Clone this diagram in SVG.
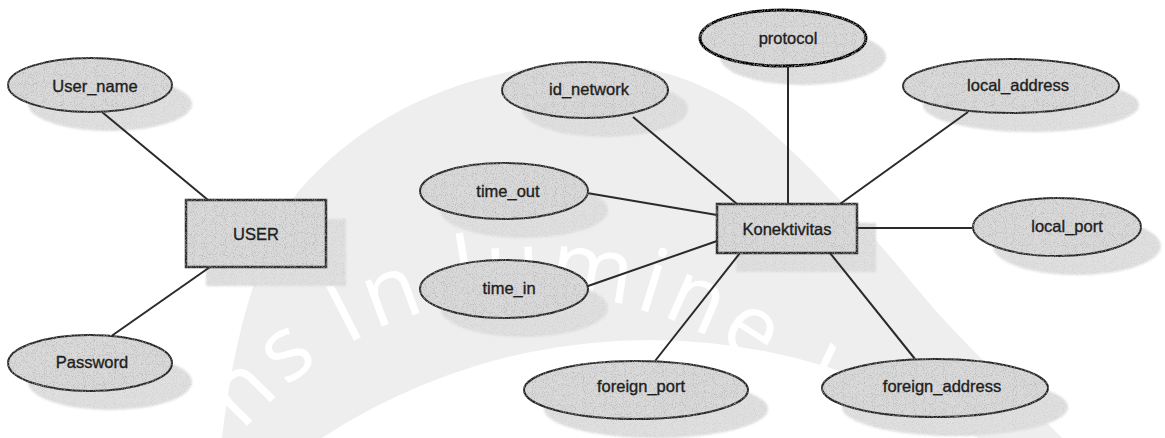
<svg xmlns="http://www.w3.org/2000/svg" xmlns:xlink="http://www.w3.org/1999/xlink" width="1165" height="438" viewBox="0 0 1165 438">
  <style>
    .wm-body { fill: #eeeeee; }
    .wm-hole { fill: #ffffff; }
    .wm-text { font-family: "Open Sans", "DejaVu Sans", sans-serif; font-size: 90px; font-weight: 400; fill: #ffffff; letter-spacing: 7px; }
    .shadow { fill: #e0e0e0; filter: url(#grainSoft); }
    .attr { fill: #dadada; stroke: #262626; stroke-width: 2; filter: url(#grain); }
    .attr.key { stroke: #000000; stroke-width: 3; }
    .entity { fill: #dadada; stroke: #2e2e2e; stroke-width: 2.5; filter: url(#grain); }
    .lbl { font-family: "Liberation Sans", Arial, sans-serif; font-size: 16.5px; fill: #1e1e1e; stroke: #1e1e1e; stroke-width: 0.35; text-anchor: middle; dominant-baseline: central; }
    #connectors line { stroke: #2a2a2a; stroke-width: 2; }
  </style>
  <defs>
    <!-- fine stipple over a flat fill -->
    <filter id="grain" x="-5%" y="-5%" width="110%" height="110%">
      <feTurbulence type="fractalNoise" baseFrequency="1.1" numOctaves="1" seed="4" result="noise"/>
      <feColorMatrix in="noise" type="matrix" values="0 0 0 0 0.35  0 0 0 0 0.35  0 0 0 0 0.35  2.2 0 0 0 -1.05" result="specks"/>
      <feComposite in="specks" in2="SourceGraphic" operator="in" result="clipped"/>
      <feMerge><feMergeNode in="SourceGraphic"/><feMergeNode in="clipped"/></feMerge>
    </filter>
    <filter id="grainSoft" x="-10%" y="-10%" width="120%" height="120%">
      <feGaussianBlur in="SourceGraphic" stdDeviation="1" result="base"/>
      <feTurbulence type="fractalNoise" baseFrequency="1.1" numOctaves="1" seed="9" result="noise"/>
      <feColorMatrix in="noise" type="matrix" values="0 0 0 0 0.55  0 0 0 0 0.55  0 0 0 0 0.55  2.0 0 0 0 -0.95" result="specks"/>
      <feComposite in="specks" in2="base" operator="in" result="clipped"/>
      <feMerge><feMergeNode in="base"/><feMergeNode in="clipped"/></feMerge>
    </filter>
    <!-- circular baseline for the motto, clockwise from the bottom -->
    <path id="mottoArc" d="M 535,1055 A 380,380 0 0 1 535,295 A 380,380 0 0 1 535,1055"/>
  </defs>

  <rect width="1165" height="438" fill="#ffffff"/>

  <!-- background emblem -->
  <g id="watermark">
    <path class="wm-body" d="M 222,438 C 235,330 258,252 298,192 C 360,120 450,75 560,64 C 640,57 700,80 745,110 C 820,170 880,245 935,310 C 985,365 1030,405 1062,438 Z"/>
    <circle class="wm-hole" cx="650" cy="938" r="598"/>
    <text class="wm-text"><textPath xlink:href="#mottoArc" href="#mottoArc" startOffset="563">Serviens</textPath></text>
    <text class="wm-text"><textPath xlink:href="#mottoArc" href="#mottoArc" startOffset="996">In</textPath></text>
    <text class="wm-text" style="letter-spacing:5px"><textPath xlink:href="#mottoArc" href="#mottoArc" startOffset="1117">lumine</textPath></text>
    <text class="wm-text"><textPath xlink:href="#mottoArc" href="#mottoArc" startOffset="1465">Veritatis</textPath></text>
  </g>

  <!-- drop shadows, offset (20,19) -->
  <g id="shadows">
    <ellipse class="shadow" cx="110" cy="104" rx="82" ry="27"/>
    <ellipse class="shadow" cx="110" cy="382" rx="82" ry="28"/>
    <rect class="shadow" x="206" y="219" width="140" height="67"/>
    <ellipse class="shadow" cx="605" cy="109" rx="83" ry="28"/>
    <ellipse class="shadow" cx="803" cy="57" rx="83" ry="28"/>
    <ellipse class="shadow" cx="1031" cy="105" rx="108" ry="27"/>
    <ellipse class="shadow" cx="1077" cy="246" rx="84" ry="29"/>
    <ellipse class="shadow" cx="524" cy="210" rx="84" ry="28"/>
    <ellipse class="shadow" cx="524" cy="308" rx="84" ry="29"/>
    <ellipse class="shadow" cx="656" cy="409" rx="112" ry="29"/>
    <ellipse class="shadow" cx="955" cy="407" rx="113" ry="29"/>
    <rect class="shadow" x="736" y="223" width="140" height="49"/>
  </g>

  <g id="connectors">
    <line x1="102" y1="112" x2="208" y2="200"/>
    <line x1="210" y1="267" x2="110" y2="337"/>
    <line x1="633" y1="117" x2="737" y2="204"/>
    <line x1="788" y1="66" x2="788" y2="204"/>
    <line x1="968" y1="112" x2="840" y2="204"/>
    <line x1="857" y1="228" x2="973" y2="228"/>
    <line x1="587" y1="193" x2="717" y2="215"/>
    <line x1="588" y1="286" x2="717" y2="241"/>
    <line x1="740" y1="253" x2="655" y2="361"/>
    <line x1="830" y1="253" x2="915" y2="359"/>
  </g>

  <g id="user">
    <rect class="entity" x="186" y="200" width="140" height="67"/>
    <text class="lbl" x="256" y="234">USER</text>
  </g>
  <g id="user_name">
    <ellipse class="attr" cx="90" cy="85" rx="82" ry="27"/>
    <text class="lbl" x="95" y="86">User_name</text>
  </g>
  <g id="password">
    <ellipse class="attr" cx="90" cy="363" rx="82" ry="28"/>
    <text class="lbl" x="92" y="362">Password</text>
  </g>

  <g id="konektivitas">
    <rect class="entity" x="717" y="204" width="140" height="49"/>
    <text class="lbl" x="787" y="229">Konektivitas</text>
  </g>
  <g id="id_network">
    <ellipse class="attr" cx="585" cy="90" rx="83" ry="28"/>
    <text class="lbl" x="589" y="89">id_network</text>
  </g>
  <g id="protocol">
    <ellipse class="attr key" cx="783" cy="38" rx="83" ry="28"/>
    <text class="lbl" x="788" y="38">protocol</text>
  </g>
  <g id="local_address">
    <ellipse class="attr" cx="1011" cy="86" rx="108" ry="27"/>
    <text class="lbl" x="1018" y="85">local_address</text>
  </g>
  <g id="local_port">
    <ellipse class="attr" cx="1057" cy="227" rx="84" ry="29"/>
    <text class="lbl" x="1067" y="226">local_port</text>
  </g>
  <g id="time_out">
    <ellipse class="attr" cx="504" cy="191" rx="84" ry="28"/>
    <text class="lbl" x="508" y="191">time_out</text>
  </g>
  <g id="time_in">
    <ellipse class="attr" cx="504" cy="289" rx="84" ry="29"/>
    <text class="lbl" x="509" y="288">time_in</text>
  </g>
  <g id="foreign_port">
    <ellipse class="attr" cx="636" cy="390" rx="112" ry="29"/>
    <text class="lbl" x="641" y="386">foreign_port</text>
  </g>
  <g id="foreign_address">
    <ellipse class="attr" cx="935" cy="388" rx="113" ry="29"/>
    <text class="lbl" x="942" y="386">foreign_address</text>
  </g>
</svg>
